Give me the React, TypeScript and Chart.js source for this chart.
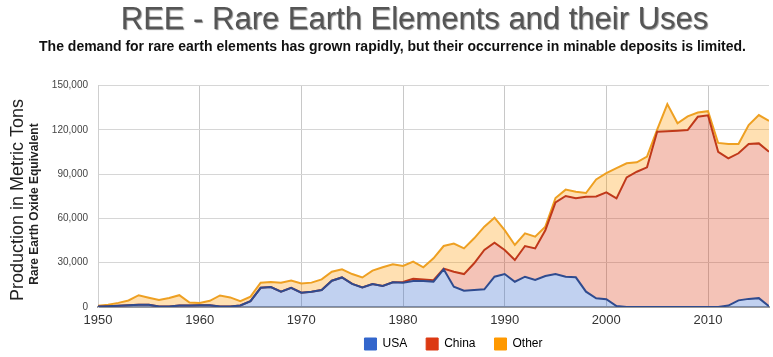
import React, { useEffect, useRef } from 'react';
import { Chart, registerables } from 'chart.js';

Chart.register(...registerables);

const TITLE = 'REE - Rare Earth Elements and their Uses';
const SUBTITLE = 'The demand for rare earth elements has grown rapidly, but their occurrence in minable deposits is limited.';
const Y_TITLE = 'Production in Metric Tons';
const Y_SUBTITLE = 'Rare Earth Oxide Equivalent';

const SERIES_NAMES = ['USA', 'China', 'Other'];

const YEARS = [
  1950, 1951, 1952, 1953, 1954, 1955, 1956, 1957, 1958, 1959,
  1960, 1961, 1962, 1963, 1964, 1965, 1966, 1967, 1968, 1969,
  1970, 1971, 1972, 1973, 1974, 1975, 1976, 1977, 1978, 1979,
  1980, 1981, 1982, 1983, 1984, 1985, 1986, 1987, 1988, 1989,
  1990, 1991, 1992, 1993, 1994, 1995, 1996, 1997, 1998, 1999,
  2000, 2001, 2002, 2003, 2004, 2005, 2006, 2007, 2008, 2009,
  2010, 2011, 2012, 2013, 2014, 2015, 2016,
];

// metric tons, rare earth oxide equivalent
const USA = [
  300, 500, 800, 1200, 1500, 1500, 300, 300, 1000, 1000,
  1200, 1200, 300, 300, 1000, 4000, 13000, 13500, 10400, 13000,
  9700, 10400, 11500, 17800, 20000, 15600, 13300, 15600, 14200, 16700,
  16500, 17600, 17600, 17200, 25500, 13700, 11000, 11500, 12000, 20500,
  22300, 17100, 20500, 18300, 21000, 22300, 20500, 20100, 10400, 5900,
  5300, 600, 0, 0, 0, 0, 0, 0, 0, 0,
  0, 0, 1000, 4500, 5500, 6000, 500,
];

const CHINA = [
  0, 0, 0, 0, 0, 0, 0, 0, 0, 0,
  0, 0, 0, 0, 0, 0, 0, 0, 0, 0,
  0, 0, 0, 0, 0, 0, 0, 0, 0, 0,
  500, 1500, 1000, 1000, 500, 10200, 11300, 18100, 26600, 23000,
  16300, 14700, 20800, 21400, 31000, 48500, 54700, 53500, 64300, 69000,
  72300, 73000, 87800, 91600, 94600, 118700, 119000, 119400, 119800, 128800,
  129800, 105100, 99700, 99600, 104900, 104800, 104600,
];

const OTHER = [
  500, 1000, 2000, 3200, 6500, 4800, 4400, 5800, 7000, 2000,
  1500, 3000, 7500, 6200, 3000, 3000, 3500, 3500, 6100, 5000,
  6300, 6100, 7200, 6100, 5500, 6700, 6700, 9000, 12700, 12300,
  10800, 11600, 8300, 14800, 15300, 19100, 17400, 16900, 15800, 17000,
  13400, 10200, 8600, 7900, 2400, 3000, 4300, 4400, 2500, 11500,
  13000, 20500, 9500, 6400, 7200, 1400, 18400, 5000, 9300, 2900,
  2800, 6000, 9700, 6300, 12800, 19200, 20900,
];

const X_TICKS = [1950, 1960, 1970, 1980, 1990, 2000, 2010];
const Y_TICKS = [0, 30000, 60000, 90000, 120000, 150000];

const SOLID = ['#3366cc', '#dc3912', '#ff9900'];
const LINE = ['#2f4b8f', '#c0391a', '#eea022'];
const FILL = ['rgba(51,102,204,0.3)', 'rgba(220,57,18,0.3)', 'rgba(255,153,0,0.3)'];

const FONT = '"Liberation Sans", Arial, sans-serif';

const axisTitlesPlugin = {
  id: 'axisTitles',
  afterDraw(chart: any) {
    const ctx = chart.ctx;
    ctx.save();
    ctx.textAlign = 'center';
    ctx.textBaseline = 'middle';
    ctx.translate(18, 200);
    ctx.rotate(-Math.PI / 2);
    ctx.fillStyle = '#222';
    ctx.font = `18px ${FONT}`;
    ctx.fillText(Y_TITLE, 0, 0);
    ctx.restore();
    ctx.save();
    ctx.textAlign = 'center';
    ctx.textBaseline = 'middle';
    ctx.translate(35, 204);
    ctx.rotate(-Math.PI / 2);
    ctx.fillStyle = '#222';
    ctx.font = `bold 12px ${FONT}`;
    ctx.fillText(Y_SUBTITLE, 0, 0);
    ctx.restore();
  },
};

const shiftPlugin = {
  id: 'shiftBoxes',
  afterLayout(chart: any) {
    const lg = chart.legend;
    if (lg) {
      lg.left += 20;
      lg.right += 20;
      lg.top -= 12;
    }
    const t = chart.titleBlock;
    if (t) {
      t.left += 30;
      t.right += 30;
      if (!t.__shadowed) {
        const orig = t.draw;
        t.draw = function (...args: any[]) {
          const ctx = chart.ctx;
          ctx.save();
          ctx.shadowColor = 'rgba(0,0,0,0.45)';
          ctx.shadowOffsetX = 1;
          ctx.shadowOffsetY = 1;
          ctx.shadowBlur = 1;
          orig.apply(this, args);
          ctx.restore();
        };
        t.__shadowed = true;
      }
    }
    const sub = (chart.boxes || []).find(
      (b: any) => b !== t && b.options && b.options.text === SUBTITLE
    );
    if (sub) {
      sub.left += 8;
      sub.right += 8;
    }
  },
};

export default function App() {
  const ref = useRef<HTMLCanvasElement | null>(null);

  useEffect(() => {
    if (!ref.current) return;
    const series = [USA, CHINA, OTHER];
    const datasets = series.map((vals, i) => ({
      label: SERIES_NAMES[i],
      data: YEARS.map((y, j) => ({ x: y, y: vals[j] })),
      borderColor: LINE[i],
      backgroundColor: FILL[i],
      borderWidth: 2,
      pointRadius: 0,
      tension: 0,
      fill: i === 0 ? 'origin' : '-1',
    }));

    const chart = new Chart(ref.current, {
      type: 'line',
      data: { datasets },
      plugins: [axisTitlesPlugin, shiftPlugin],
      options: {
        animation: false,
        responsive: false,
        layout: { padding: { left: 0, right: 4, top: 0, bottom: 0 } },
        plugins: {
          title: {
            display: true,
            text: TITLE,
            color: '#555',
            font: { family: FONT, size: 31, weight: 'normal', lineHeight: 1.2 },
            padding: { top: 2, bottom: 0 },
          },
          subtitle: {
            display: true,
            text: SUBTITLE,
            color: '#111',
            font: { family: FONT, size: 14, weight: 'bold', lineHeight: 1.2 },
            padding: { top: 0, bottom: 29.5 },
          },
          legend: {
            display: true,
            position: 'bottom',
            fullSize: false,
            maxHeight: 26,
            labels: {
              boxWidth: 12,
              boxHeight: 12,
              padding: 19,
              color: '#222',
              font: { family: FONT, size: 12 },
              generateLabels: (ch: any) =>
                ch.data.datasets.map((ds: any, i: number) => ({
                  text: ds.label,
                  fillStyle: SOLID[i],
                  strokeStyle: SOLID[i],
                  lineWidth: 1,
                  hidden: false,
                  datasetIndex: i,
                })),
            },
          },
          tooltip: { enabled: false },
        },
        scales: {
          x: {
            type: 'linear',
            min: 1950,
            max: 2016,
            afterBuildTicks: (s: any) => {
              s.ticks = X_TICKS.map((v) => ({ value: v }));
            },
            afterFit: (s: any) => {
              s.height = 24;
            },
            ticks: {
              padding: 6,
              color: '#333',
              font: { family: FONT, size: 13 },
              callback: (v: any) => String(v),
              maxRotation: 0,
            },
            grid: { color: '#c8c8c8', drawTicks: false },
            border: { color: '#999', width: 2 },
          },
          y: {
            stacked: true,
            min: 0,
            max: 150000,
            afterBuildTicks: (s: any) => {
              s.ticks = Y_TICKS.map((v) => ({ value: v }));
            },
            afterFit: (s: any) => {
              s.width = 98;
            },
            ticks: {
              padding: 10,
              color: '#444',
              font: { family: FONT, size: 10 },
              callback: (v: any) => Number(v).toLocaleString('en-US'),
            },
            grid: { color: '#d6d6d6', drawTicks: false },
            border: { color: '#cfcfcf' },
          },
        },
      },
    } as any);
    return () => chart.destroy();
  }, []);

  return (
    <div style={{ position: 'absolute', left: 0, top: 0, width: 773, height: 357, background: '#fff' }}>
      <canvas ref={ref} width={773} height={357} style={{ display: 'block' }} />
    </div>
  );
}
